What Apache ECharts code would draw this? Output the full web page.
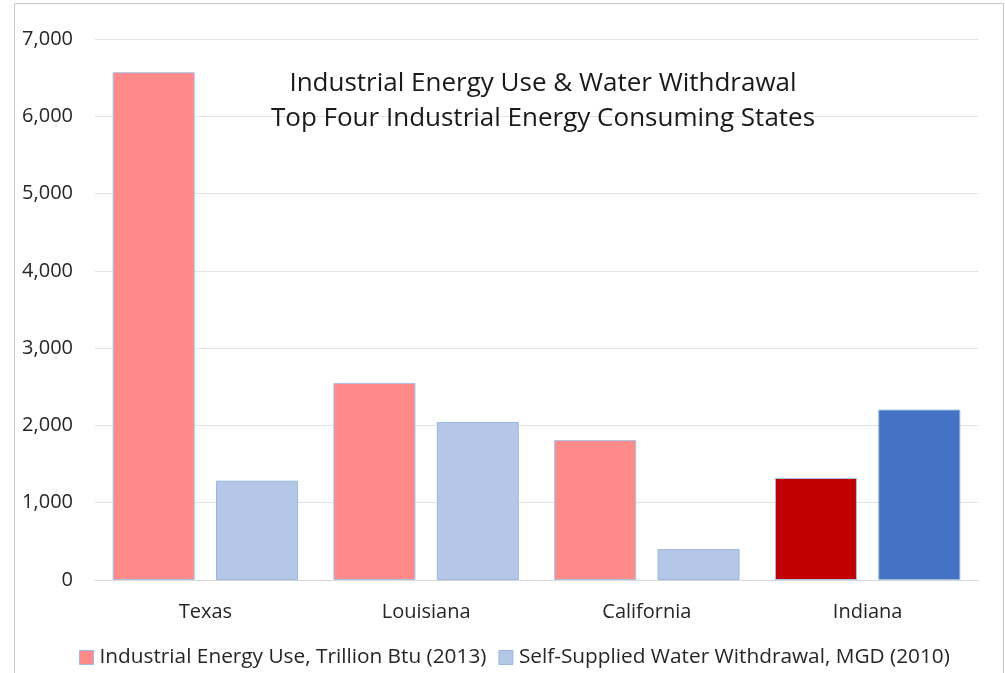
<!DOCTYPE html>
<html>
<head>
<meta charset="utf-8">
<script src="https://cdn.jsdelivr.net/npm/echarts@6/dist/echarts.min.js"></script>
<style>
html,body{margin:0;padding:0;background:#fff;}
#c{width:1005px;height:673px;}
</style>
</head>
<body>
<div id="c"></div>
<script>
var categories = ['Texas', 'Louisiana', 'California', 'Indiana'];
var energyUse = [6570, 2550, 1810, 1320];
var waterWithdrawal = [1285, 2045, 400, 2205];
var seriesNames = ['Industrial Energy Use, Trillion Btu (2013)', 'Self-Supplied Water Withdrawal, MGD (2010)'];
var titleLines = ['Industrial Energy Use & Water Withdrawal', 'Top Four Industrial Energy Consuming States'];
var highlightCategory = 'Indiana';

var FONT = '"Open Sans", "Noto Sans", sans-serif';
var redLight = '#FF8A8A', redDark = '#C00000';
var blueLight = '#B4C7E7', blueDark = '#4472C4';

function buildData(values, light, dark) {
  return values.map(function (v, i) {
    var hl = categories[i] === highlightCategory;
    return { value: v, itemStyle: { color: hl ? dark : light } };
  });
}

var chart = echarts.init(document.getElementById('c'), null, { renderer: 'canvas' });
chart.setOption({
  animation: false,
  textStyle: { fontFamily: FONT },
  graphic: [{
    type: 'rect',
    shape: { x: 14.5, y: 3.5, width: 989, height: 680 },
    style: { fill: null, stroke: '#c8c8c8', lineWidth: 1 },
    silent: true, z: -10
  }],
  title: {
    text: titleLines.join('\n'),
    left: 538,
    top: 61,
    textAlign: 'center',
    textStyle: { fontFamily: FONT, fontSize: 26, fontWeight: 'normal', color: '#1a1a1a', lineHeight: 35 }
  },
  legend: {
    data: seriesNames,
    left: 74,
    top: 642,
    itemWidth: 14,
    itemHeight: 14,
    itemGap: 12,
    icon: 'rect',
    textStyle: { fontFamily: FONT, fontSize: 20.8, color: '#262626', padding: [0, 0, 0, 1] },
    itemStyle: { borderColor: '#9ab8e0', borderWidth: 1 },
    selectedMode: false
  },
  grid: { left: 95, right: 27, top: 39, bottom: 93, containLabel: false },
  xAxis: {
    type: 'category',
    data: categories,
    axisLine: { show: true, lineStyle: { color: '#d9d9d9', width: 1 } },
    axisTick: { show: false },
    axisLabel: { fontFamily: FONT, fontSize: 20, color: '#262626', margin: 22 }
  },
  yAxis: {
    type: 'value',
    min: 0, max: 7000, interval: 1000,
    axisLine: { show: false },
    axisTick: { show: false },
    splitLine: { lineStyle: { color: '#e3e3e3', width: 1 } },
    axisLabel: {
      fontFamily: FONT, fontSize: 20, color: '#262626', margin: 22,
      formatter: function (v) { return v.toLocaleString('en-US'); }
    }
  },
  series: [{
    name: seriesNames[0],
    type: 'bar',
    data: buildData(energyUse, redLight, redDark),
    itemStyle: { color: redLight, borderColor: '#a9c1e4', borderWidth: 1 },
    barGap: '26%',
    barCategoryGap: '16%'
  }, {
    name: seriesNames[1],
    type: 'bar',
    data: buildData(waterWithdrawal, blueLight, blueDark),
    itemStyle: { color: blueLight, borderColor: '#9ab8e0', borderWidth: 1 },
    barGap: '26%',
    barCategoryGap: '16%'
  }]
});
</script>
</body>
</html>
